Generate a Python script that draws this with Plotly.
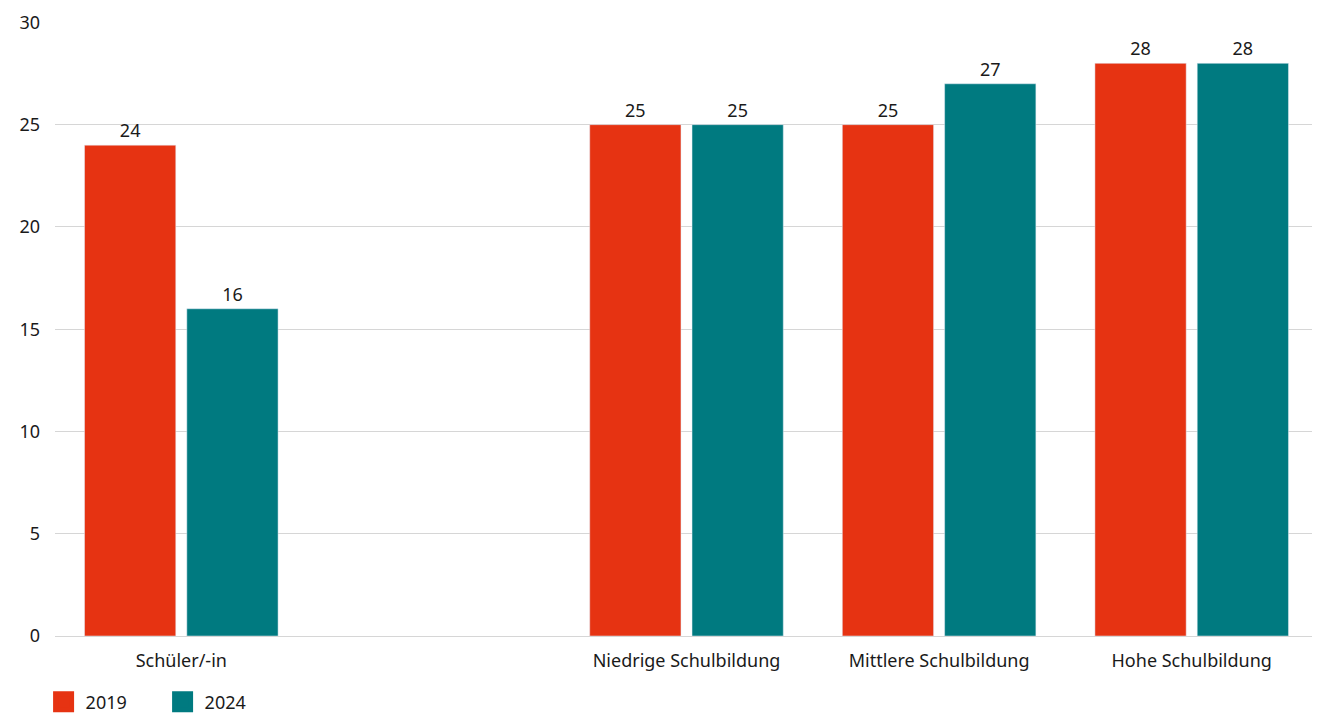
import plotly.graph_objects as go

categories = ["Schüler/-in", " ", "Niedrige Schulbildung", "Mittlere Schulbildung", "Hohe Schulbildung"]
values_2019 = [24, None, 25, 25, 28]
values_2024 = [16, None, 25, 27, 28]
series_names = ["2019", "2024"]
colors = ["#E63312", "#007A80"]
y_ticks = [0, 5, 10, 15, 20, 25, 30]

font_family = "Noto Sans"
fs = 18

fig = go.Figure()
for name, vals, col in zip(series_names, [values_2019, values_2024], colors):
    fig.add_trace(go.Bar(
        x=categories, y=vals, name=name, marker_color=col, showlegend=False,
        text=[("" if v is None else str(v)) for v in vals],
        textposition="outside", cliponaxis=False,
        textfont=dict(family=font_family, size=fs, color="#1a1a1a"),
    ))
# legend entries
for name, col in zip(series_names, colors):
    fig.add_trace(go.Scatter(
        x=[None], y=[None], mode="markers", name=name,
        marker=dict(symbol="square", size=16, color=col, line=dict(width=5, color=col)),
        showlegend=True,
    ))

fig.update_layout(
    width=1312, height=707,
    margin=dict(l=47, r=2, t=14, b=79),
    paper_bgcolor="white", plot_bgcolor="white",
    barmode="group", bargap=0.19, bargroupgap=0.108,
    font=dict(family=font_family, size=fs, color="#1a1a1a"),
    legend=dict(orientation="h", xref="container", yref="container",
                x=0.0256, xanchor="left", y=0.0184, yanchor="middle",
                font=dict(size=fs), itemsizing="trace", traceorder="normal",
                itemwidth=34, entrywidth=70, entrywidthmode="pixels", tracegroupgap=0),
    xaxis=dict(type="category", categoryorder="array", categoryarray=categories,
               showgrid=False, showline=False, ticks="", ticklabelstandoff=12,
               tickfont=dict(size=fs), automargin=False),
    yaxis=dict(range=[0, 30.02], tickvals=y_ticks, showgrid=True, gridcolor="#d6d6d6",
               gridwidth=1, zeroline=True, zerolinecolor="#d6d6d6", zerolinewidth=1,
               showline=False, ticks="", ticklabelstandoff=14, tickfont=dict(size=fs),
               automargin=False),
)

fig.write_html("out.html")
